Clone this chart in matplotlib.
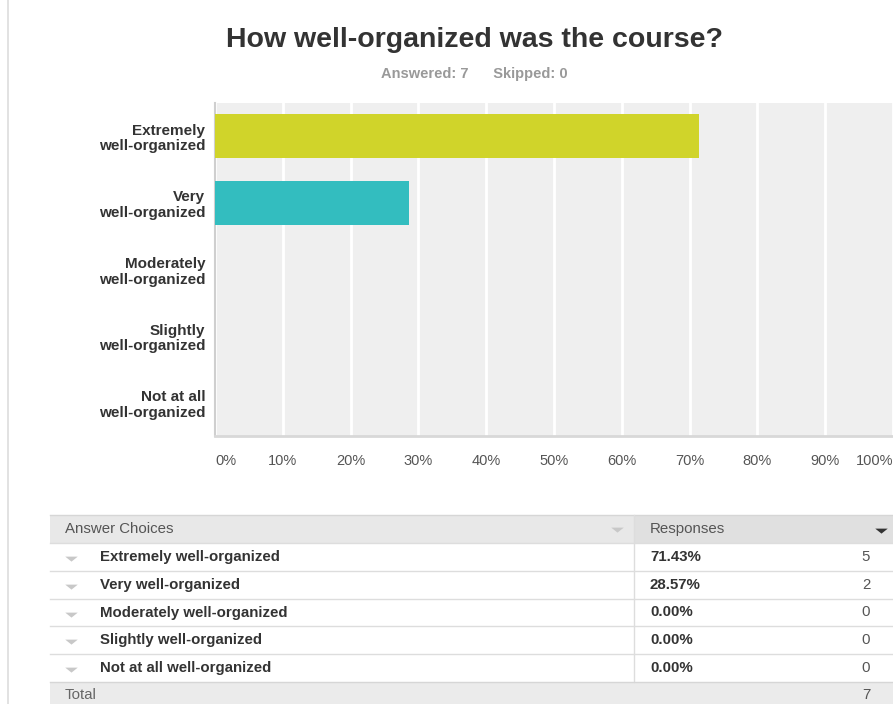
import matplotlib
matplotlib.use("Agg")
from matplotlib import pyplot as plt
from matplotlib.patches import Rectangle

# survey data
choices = ["Extremely well-organized", "Very well-organized", "Moderately well-organized",
           "Slightly well-organized", "Not at all well-organized"]
axis_labels = ["Extremely\nwell-organized", "Very\nwell-organized", "Moderately\nwell-organized",
               "Slightly\nwell-organized", "Not at all\nwell-organized"]
counts = [5, 2, 0, 0, 0]
bar_colors = ["#d0d42a", "#33bdbf", "#e36f5a", "#9a7fc0", "#f5a623"]
skipped = 0
xticks = [0, 10, 20, 30, 40, 50, 60, 70, 80, 90, 100]

total = sum(counts)
pcts = [100.0 * c / total for c in counts]

plt.rcParams['font.family'] = ['Liberation Sans', 'DejaVu Sans']

W, H = 893, 704
fig = plt.figure(figsize=(W / 100, H / 100), dpi=100)

# background layer in pixel coords (title, table)
bg = fig.add_axes([0, 0, 1, 1])
bg.set_xlim(0, W)
bg.set_ylim(H, 0)
bg.axis("off")

tri = [(-1, 0.3), (1, 0.3), (0, -0.5)]

bg.plot([8, 8], [0, H], color="#dddddd", lw=1.2)
bg.text(474, 40, "How well-organized was the course?", ha="center", va="center",
        fontsize=20.5, fontweight="bold", color="#333333")
bg.text(474, 74, f"Answered: {total}      Skipped: {skipped}", ha="center", va="center",
        fontsize=10.5, fontweight="bold", color="#999999")

# chart
ax = fig.add_axes([215 / W, 1 - 436 / H, 678 / W, 333 / H])
ax.set_facecolor("#efefef")
ypos = list(range(len(choices)))
ax.barh(ypos, pcts, height=0.66, color=bar_colors, zorder=3)
ax.set_xlim(0, 100)
ax.set_ylim(len(choices) - 0.5, -0.5)
ax.set_xticks(xticks)
ax.set_xticklabels([f"{t}%" for t in xticks], fontsize=10.5, color="#555555")
xt = ax.get_xticklabels()
xt[0].set_ha("left")
xt[-1].set_ha("right")
ax.set_yticks(ypos)
ax.set_yticklabels(axis_labels, fontsize=11, fontweight="bold", color="#333333",
                   linespacing=1.15)
ax.tick_params(axis="both", length=0)
ax.tick_params(axis="x", pad=13)
ax.tick_params(axis="y", pad=7)
ax.grid(axis="x", color="white", lw=2, zorder=1)
for s in ["top", "right"]:
    ax.spines[s].set_visible(False)
ax.spines["left"].set_color("#cfcfcf")
ax.spines["bottom"].set_color("#d8d8d8")
ax.spines["left"].set_linewidth(1.5)
ax.spines["bottom"].set_linewidth(2)

# table
tx0, tx1, colx = 50, W, 634
head_top, head_bot = 515, 543
row_h = 27.8
fs = 10.8
bg.add_patch(Rectangle((tx0, head_top), colx - tx0, head_bot - head_top, color="#e8e8e8", lw=0))
bg.add_patch(Rectangle((colx, head_top), tx1 - colx, head_bot - head_top, color="#e0e0e0", lw=0))
bg.plot([tx0, tx1], [head_top, head_top], color="#d6d6d6", lw=1)
bg.text(65, 529, "Answer Choices", ha="left", va="center", fontsize=fs, color="#555555")
bg.plot([617], [529], marker=tri, ms=9, color="#c8c8c8", mec="none")
bg.text(650, 529, "Responses", ha="left", va="center", fontsize=fs, color="#555555")
bg.plot([881], [530], marker=tri, ms=9, color="#333333", mec="none")

for i, name in enumerate(choices):
    y0 = head_bot + i * row_h
    yc = y0 + row_h / 2
    bg.plot([tx0, tx1], [y0, y0], color="#dddddd", lw=1)
    bg.plot([71], [yc + 1], marker=tri, ms=9, color="#c8c8c8", mec="none")
    bg.text(100, yc, name, ha="left", va="center", fontsize=fs, fontweight="bold", color="#333333")
    bg.text(650, yc, f"{pcts[i]:.2f}%", ha="left", va="center", fontsize=fs,
            fontweight="bold", color="#333333")
    bg.text(866, yc, str(counts[i]), ha="center", va="center", fontsize=fs, color="#555555")

tot_top = head_bot + len(choices) * row_h
bg.plot([colx, colx], [head_top, tot_top], color="#dddddd", lw=1)
bg.add_patch(Rectangle((tx0, tot_top), tx1 - tx0, H - tot_top, color="#ebebeb", lw=0))
bg.plot([tx0, tx1], [tot_top, tot_top], color="#d6d6d6", lw=1)
bg.text(65, tot_top + 13, "Total", ha="left", va="center", fontsize=fs, color="#666666")
bg.text(866, tot_top + 13, str(total), ha="center", va="center", fontsize=fs, color="#555555")

fig.savefig("out.png", dpi=100)
